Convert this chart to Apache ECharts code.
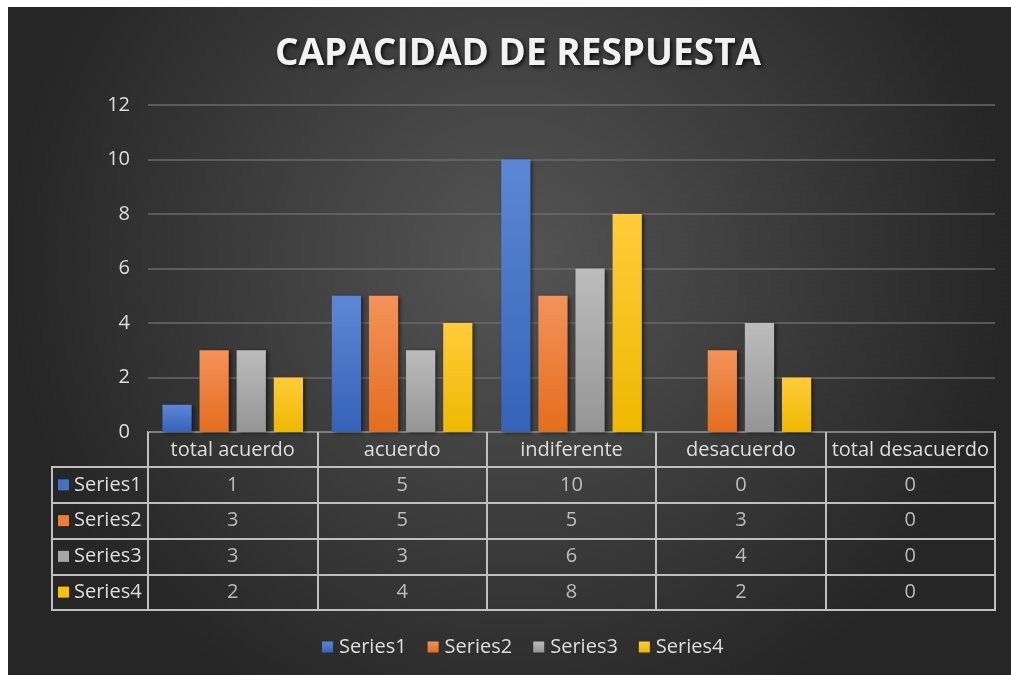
<!DOCTYPE html>
<html>
<head>
<meta charset="utf-8">
<script src="https://cdn.jsdelivr.net/npm/echarts@6/dist/echarts.min.js"></script>
<style>
html,body{margin:0;padding:0;background:#fff;width:1011px;height:675px;overflow:hidden;}
#c{position:absolute;left:8px;top:7px;width:1003px;height:668px;}
</style>
</head>
<body>
<div id="c"></div>
<script>
var title = 'CAPACIDAD DE RESPUESTA';
var categories = ['total acuerdo', 'acuerdo', 'indiferente', 'desacuerdo', 'total desacuerdo'];
var seriesNames = ['Series1', 'Series2', 'Series3', 'Series4'];
var series1 = [1, 5, 10, 0, 0];
var series2 = [3, 5, 5, 3, 0];
var series3 = [3, 3, 6, 4, 0];
var series4 = [2, 4, 8, 2, 0];
var yTicks = { min: 0, max: 12, interval: 2 };

var values = [series1, series2, series3, series4];
var colors = ['#4472C4', '#ED7D31', '#A5A5A5', '#FFC000'];
var topColors = ['#5d87d6', '#f3925a', '#bcbcbc', '#ffcc3a'];
var botColors = ['#3563b8', '#e46d1e', '#959595', '#efb800'];

var textColor = '#dedede';
var lineColor = '#bfbfbf';
var font = 'Open Sans';
var fs = 20;

var chart = echarts.init(document.getElementById('c'), null, { renderer: 'canvas' });

var bars = seriesNames.map(function (n, i) {
  return {
    name: n, type: 'bar', xAxisIndex: 0, yAxisIndex: 0,
    data: values[i],
    barGap: '27%', barCategoryGap: '17%',
    itemStyle: {
      color: new echarts.graphic.LinearGradient(0, 0, 0, 1, [
        { offset: 0, color: topColors[i] }, { offset: 1, color: botColors[i] }
      ]),
      shadowColor: 'rgba(0,0,0,0.55)', shadowBlur: 4, shadowOffsetX: 2, shadowOffsetY: 1
    }
  };
});

var cellData = [];
seriesNames.forEach(function (n, i) {
  categories.forEach(function (c, j) {
    cellData.push([c, n, values[i][j]]);
  });
});

var rowLabelRich = { t: { color: textColor, fontSize: fs, fontFamily: font, padding: [0, 0, 0, 5] } };
seriesNames.forEach(function (n, i) {
  rowLabelRich['b' + i] = { width: 11, height: 11, backgroundColor: colors[i] };
});

var option = {
  backgroundColor: {
    type: 'radial', x: 0.5, y: 0.38, r: 0.75,
    colorStops: [{ offset: 0, color: '#555555' }, { offset: 1, color: '#262626' }]
  },
  animation: false,
  title: {
    text: title, left: 262, top: 24,
    textStyle: {
      color: '#f2f2f2', fontSize: 37, fontWeight: 'bold', fontFamily: font,
      textShadowColor: 'rgba(0,0,0,0.8)', textShadowBlur: 4, textShadowOffsetX: 2, textShadowOffsetY: 2
    }
  },
  legend: {
    data: seriesNames, bottom: 13, left: 309,
    icon: 'rect', itemWidth: 11, itemHeight: 11, itemGap: 21,
    textStyle: { color: textColor, fontSize: fs, fontFamily: font, padding: [0, 0, 0, 1] }
  },
  grid: [
    { left: 140, right: 16, top: 98, height: 327 },
    { left: 140, right: 16, top: 425, height: 35, show: true, borderColor: lineColor, borderWidth: 2 },
    { left: 140, right: 16, top: 460, height: 143, show: true, borderColor: lineColor, borderWidth: 2 },
    { left: 44, width: 96, top: 460, height: 143, show: true, borderColor: lineColor, borderWidth: 2 }
  ],
  xAxis: [
    { type: 'category', gridIndex: 0, data: categories, axisLine: { show: false }, axisTick: { show: false }, axisLabel: { show: false } },
    { type: 'category', gridIndex: 1, data: categories, axisLine: { show: false }, axisTick: { show: false },
      axisLabel: { interval: 0, inside: true, margin: 17, verticalAlign: 'middle', color: textColor, fontSize: fs, fontFamily: font },
      splitLine: { show: true, interval: 0, lineStyle: { color: lineColor, width: 2 } } },
    { type: 'category', gridIndex: 2, data: categories, axisLine: { show: false }, axisTick: { show: false }, axisLabel: { show: false },
      splitLine: { show: true, interval: 0, lineStyle: { color: lineColor, width: 2 } } },
    { type: 'value', gridIndex: 3, show: false }
  ],
  yAxis: [
    { type: 'value', gridIndex: 0, min: yTicks.min, max: yTicks.max, interval: yTicks.interval,
      axisLine: { show: false }, axisTick: { show: false },
      axisLabel: { color: textColor, fontSize: fs, fontFamily: font, margin: 18 },
      splitLine: { lineStyle: { color: '#6a6a6a', width: 1.5 } } },
    { type: 'value', gridIndex: 1, show: false },
    { type: 'category', gridIndex: 2, data: seriesNames, inverse: true, axisLine: { show: false }, axisTick: { show: false }, axisLabel: { show: false },
      splitLine: { show: true, interval: 0, lineStyle: { color: lineColor, width: 2 } } },
    { type: 'category', gridIndex: 3, data: seriesNames, inverse: true, axisLine: { show: false }, axisTick: { show: false },
      axisLabel: { interval: 0, inside: true, margin: 6, formatter: function (v, idx) { return '{b' + idx + '|}{t|' + v + '}'; }, rich: rowLabelRich },
      splitLine: { show: true, interval: 0, lineStyle: { color: lineColor, width: 2 } } }
  ],
  series: bars.concat([{
    type: 'scatter', xAxisIndex: 2, yAxisIndex: 2, data: cellData, symbolSize: 1,
    itemStyle: { color: 'rgba(0,0,0,0)' }, silent: true,
    label: { show: true, position: 'inside', formatter: function (p) { return String(p.value[2]); },
      color: textColor, fontSize: fs, fontFamily: font }
  }])
};
chart.setOption(option);
</script>
</body>
</html>
